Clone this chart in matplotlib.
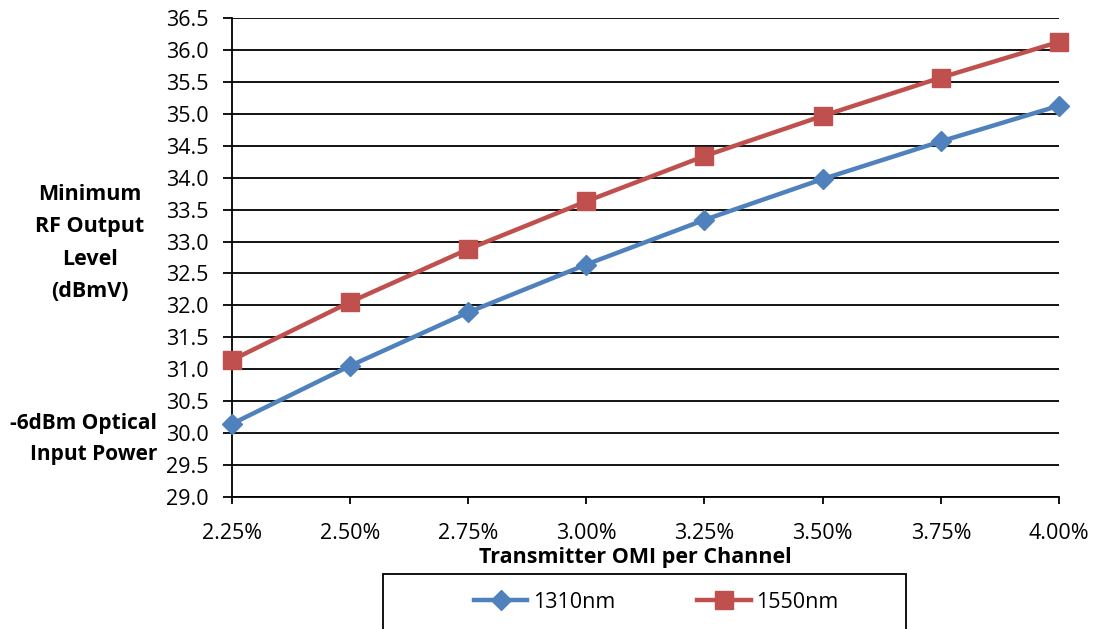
import matplotlib
matplotlib.use("Agg")
import matplotlib.pyplot as plt
from matplotlib.patches import Rectangle

# Transmitter OMI per channel (%) and minimum RF output level (dBmV)
omi_pct = [2.25, 2.50, 2.75, 3.00, 3.25, 3.50, 3.75, 4.00]
rf_1310 = [30.14, 31.05, 31.89, 32.64, 33.34, 33.98, 34.57, 35.13]
rf_1550 = [31.14, 32.05, 32.88, 33.63, 34.34, 34.97, 35.57, 36.13]
y_ticks = [29.0 + 0.5 * i for i in range(16)]
series_names = ["1310nm", "1550nm"]

BLUE = "#4F81BD"
RED = "#C0504D"

plt.rcParams["font.family"] = ["Open Sans", "DejaVu Sans"]

W, H = 1102, 629
fig = plt.figure(figsize=(W / 100, H / 100), dpi=100)
ax = fig.add_axes([231.7 / W, 1 - 496.7 / H, (1059 - 231.7) / W, (496.7 - 18.3) / H])

ax.set_xlim(omi_pct[0], omi_pct[-1])
ax.set_ylim(y_ticks[0], y_ticks[-1])

ax.set_yticks(y_ticks)
ax.set_yticklabels([f"{v:.1f}" for v in y_ticks])
ax.set_xticks(omi_pct)
ax.set_xticklabels([f"{v:.2f}%" for v in omi_pct])

ax.yaxis.grid(True, color="black", lw=1.3)
ax.set_axisbelow(True)
for side in ("top", "right"):
    ax.spines[side].set_visible(False)
for side in ("left", "bottom"):
    ax.spines[side].set_color("black")
    ax.spines[side].set_linewidth(1.3)

ax.tick_params(axis="y", direction="out", length=6.5, width=1.3, pad=10,
               labelsize=15.5, colors="black")
ax.tick_params(axis="x", direction="out", length=5, width=1.3, pad=14,
               labelsize=15.5, colors="black")

l1, = ax.plot(omi_pct, rf_1310, color=BLUE, lw=3.2, marker="D", ms=10,
              clip_on=False, zorder=3, label=series_names[0])
l2, = ax.plot(omi_pct, rf_1550, color=RED, lw=3.2, marker="s", ms=13,
              clip_on=False, zorder=3, label=series_names[1])

# axis titles
fig.text(90 / W, 1 - 243 / H, "Minimum\nRF Output\nLevel\n(dBmV)", ha="center",
         va="center", fontsize=15.5, fontweight="bold", linespacing=1.7)
fig.text(157 / W, 1 - 439 / H, "-6dBm Optical\nInput Power", ha="right",
         va="center", fontsize=15, fontweight="bold", linespacing=1.65)
fig.text(635 / W, 1 - 557 / H, "Transmitter OMI per Channel", ha="center",
         va="center", fontsize=15.5, fontweight="bold")

# legend box
fig.patches.append(Rectangle((383 / W, -0.05), (906 - 383) / W, 0.05 + 1 - 573.5 / H,
                             transform=fig.transFigure, fill=False,
                             edgecolor="black", lw=1.3))
fig.legend(handles=[l1, l2], loc="center", bbox_to_anchor=(656 / W, 1 - 602 / H),
           ncol=2, frameon=False, fontsize=15.5, handlelength=2.5,
           handletextpad=0.25, columnspacing=3.8)

fig.savefig("out.png", dpi=100)
